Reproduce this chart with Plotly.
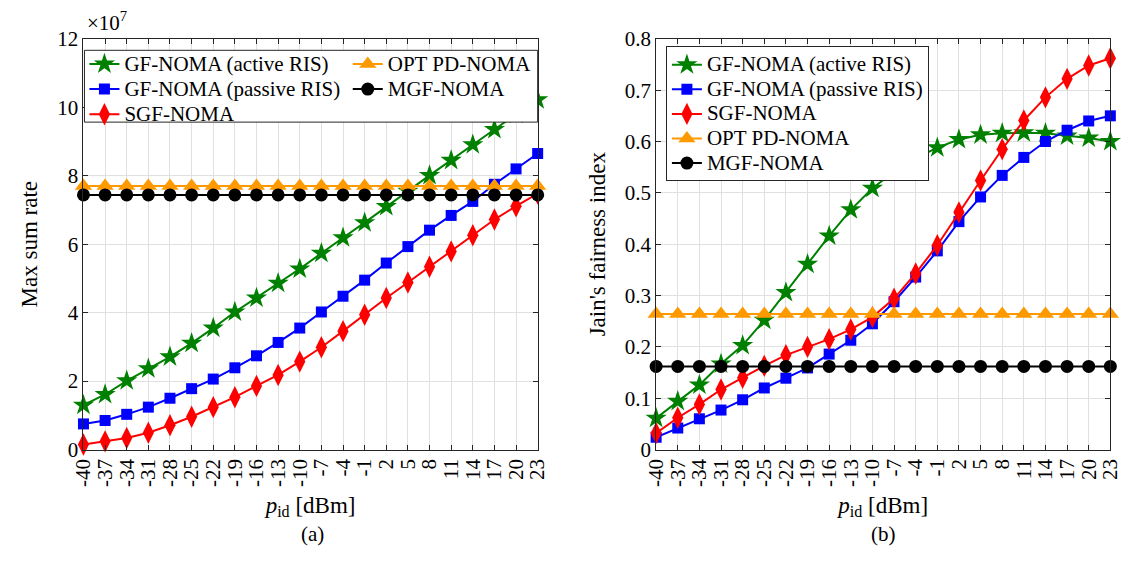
import plotly.graph_objects as go

# Transmit power of the IoT devices, p_id [dBm]
p_id = [-40, -37, -34, -31, -28, -25, -22, -19, -16, -13, -10,
        -7, -4, -1, 2, 5, 8, 11, 14, 17, 20, 23]
p_id_labels = [str(v) for v in p_id]

# (a) Max sum rate, in units of 1e7
rate_active = [1.30, 1.61, 2.01, 2.36, 2.71, 3.11, 3.55, 4.02, 4.43, 4.86, 5.28,
               5.74, 6.19, 6.63, 7.10, 7.55, 8.01, 8.45, 8.91, 9.35, 9.80, 10.22]
rate_passive = [0.75, 0.85, 1.03, 1.24, 1.50, 1.78, 2.06, 2.39, 2.74, 3.13, 3.55,
                4.02, 4.48, 4.95, 5.45, 5.93, 6.41, 6.84, 7.25, 7.75, 8.20, 8.65]
rate_sgf = [0.15, 0.24, 0.34, 0.49, 0.71, 0.96, 1.24, 1.53, 1.86, 2.18, 2.57,
            2.99, 3.46, 3.94, 4.43, 4.88, 5.34, 5.79, 6.26, 6.72, 7.11, 7.48]
rate_opt = [7.70] * 22
rate_mgf = [7.44] * 22

# (b) Jain's fairness index
jain_active = [0.061, 0.094, 0.126, 0.167, 0.203, 0.252, 0.306, 0.361, 0.416, 0.467, 0.509,
               0.541, 0.567, 0.588, 0.604, 0.613, 0.616, 0.617, 0.616, 0.611, 0.607, 0.600]
jain_passive = [0.024, 0.042, 0.060, 0.077, 0.097, 0.120, 0.139, 0.159, 0.186, 0.213, 0.245,
                0.288, 0.336, 0.387, 0.444, 0.492, 0.534, 0.569, 0.600, 0.622, 0.640, 0.650]
jain_sgf = [0.032, 0.062, 0.088, 0.117, 0.140, 0.163, 0.184, 0.200, 0.215, 0.234, 0.258,
            0.294, 0.343, 0.398, 0.462, 0.524, 0.585, 0.641, 0.686, 0.722, 0.748, 0.762]
jain_opt = [0.264] * 22
jain_mgf = [0.162] * 22

rate_ticks = [0, 2, 4, 6, 8, 10, 12]
jain_ticks = [0, 0.1, 0.2, 0.3, 0.4, 0.5, 0.6, 0.7, 0.8]

names = ["GF-NOMA (active RIS)", "GF-NOMA (passive RIS)", "SGF-NOMA",
         "OPT PD-NOMA", "MGF-NOMA"]

W, H = 1138, 565
FONT = "Liberation Serif"
AXC = "#262626"
GRID = "#e0e0e0"

styles = [
    dict(color="#008000", symbol="star", size=16),
    dict(color="#0000ff", symbol="square", size=11),
    dict(color="#ff0000", symbol="diamond-tall", size=16),
    dict(color="#ff9900", symbol="triangle-up", size=15),
    dict(color="#000000", symbol="circle", size=13),
]


def px_x(v):
    return v / W


def px_y(v):
    return 1 - v / H


def legend_name(s):
    return '<span style="font-size:21px">' + s + "</span>"


fig = go.Figure()

left_series = [rate_active, rate_passive, rate_sgf, rate_opt, rate_mgf]
left_legends = ["legend", "legend", "legend", "legend2", "legend2"]
for name, ys, st, lg in zip(names, left_series, styles, left_legends):
    fig.add_trace(go.Scatter(
        x=p_id, y=ys, name=legend_name(name), mode="lines+markers",
        line=dict(color=st["color"], width=2),
        marker=dict(symbol=st["symbol"], size=st["size"], color=st["color"],
                    line=dict(width=0)),
        xaxis="x", yaxis="y", legend=lg, cliponaxis=False))

right_series = [jain_active, jain_passive, jain_sgf, jain_opt, jain_mgf]
for name, ys, st in zip(names, right_series, styles):
    fig.add_trace(go.Scatter(
        x=p_id, y=ys, name=legend_name(name), mode="lines+markers",
        line=dict(color=st["color"], width=2),
        marker=dict(symbol=st["symbol"], size=st["size"], color=st["color"],
                    line=dict(width=0)),
        xaxis="x2", yaxis="y2", legend="legend3", cliponaxis=False))

title_font = dict(family=FONT, size=23, color="#000")

common_axis = dict(
    showline=True, linecolor=AXC, linewidth=1, mirror="ticks",
    ticks="inside", ticklen=5, tickcolor=AXC, tickwidth=1,
    showgrid=True, gridcolor=GRID, gridwidth=1, zeroline=False,
    tickfont=dict(family=FONT, size=21, color="#000"),
)

xcommon = dict(common_axis, range=[-40, 23], tickmode="array",
               tickvals=p_id, ticktext=p_id_labels, tickangle=-90,
               title=dict(text="<i>p</i><sub>id</sub> [dBm]", standoff=10,
                          font=title_font))

fig.update_layout(
    width=W, height=H,
    margin=dict(l=0, r=0, t=0, b=0),
    paper_bgcolor="white", plot_bgcolor="white",
    font=dict(family=FONT, size=21, color="#000"),
    xaxis=dict(xcommon, domain=[px_x(73), px_x(537)], anchor="y"),
    yaxis=dict(common_axis, domain=[px_y(457), px_y(28)], anchor="x",
               range=[0, 12], tickmode="array", tickvals=rate_ticks,
               ticktext=[str(v) for v in rate_ticks],
               title=dict(text="Max sum rate", standoff=13, font=title_font)),
    xaxis2=dict(xcommon, domain=[px_x(658), px_x(1122)], anchor="y2"),
    yaxis2=dict(common_axis, domain=[px_y(457), px_y(28)], anchor="x2",
                range=[0, 0.8], tickmode="array", tickvals=jain_ticks,
                ticktext=[("%g" % v) for v in jain_ticks],
                title=dict(text="Jain's fairness index", standoff=12,
                           font=title_font)),
    legend=dict(x=px_x(74), y=px_y(36), xanchor="left", yanchor="top",
                bgcolor="rgba(0,0,0,0)", borderwidth=0,
                font=dict(family=FONT, size=17, color="#000"),
                itemwidth=30, traceorder="normal"),
    legend2=dict(x=px_x(343), y=px_y(36), xanchor="left", yanchor="top",
                 bgcolor="rgba(0,0,0,0)", borderwidth=0,
                 font=dict(family=FONT, size=17, color="#000"),
                 itemwidth=30, traceorder="normal"),
    legend3=dict(x=px_x(668), y=px_y(36), xanchor="left", yanchor="top",
                 bgcolor="white", bordercolor=AXC, borderwidth=1,
                 font=dict(family=FONT, size=16.6, color="#000"),
                 itemwidth=30, traceorder="normal"),
    shapes=[dict(type="rect", xref="paper", yref="paper",
                 x0=px_x(74), x1=px_x(537), y0=px_y(115), y1=px_y(40),
                 fillcolor="white", line=dict(color=AXC, width=1),
                 layer="above")],
    annotations=[
        dict(text="\u00d710<sup>7</sup>", xref="paper", yref="paper",
             x=px_x(75), y=px_y(26), xanchor="left", yanchor="bottom",
             showarrow=False, font=dict(family=FONT, size=21)),
        dict(text="(a)", xref="paper", yref="paper",
             x=px_x(307), y=px_y(545), xanchor="center", yanchor="middle",
             showarrow=False, font=dict(family=FONT, size=21)),
        dict(text="(b)", xref="paper", yref="paper",
             x=px_x(890), y=px_y(545), xanchor="center", yanchor="middle",
             showarrow=False, font=dict(family=FONT, size=21)),
    ],
)

# Place the figure flush with the page corner.
fig.write_html("out.html",
               post_script="document.body.style.margin='0';"
                           "document.body.style.overflow='hidden';")
